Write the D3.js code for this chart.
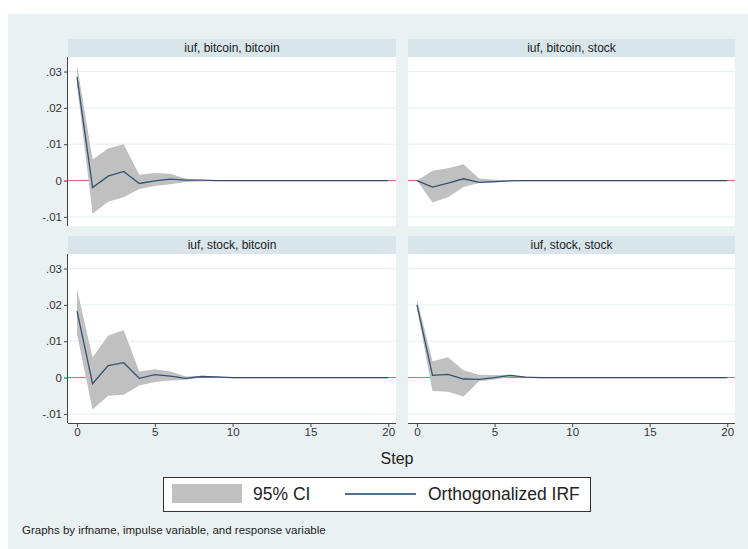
<!DOCTYPE html>
<html>
<head>
<meta charset="utf-8">
<script src="https://cdn.jsdelivr.net/npm/d3@7"></script>
<style>
  body { margin: 0; background: #fff; }
  text { font-family: "Liberation Sans", Arial, sans-serif; }
</style>
</head>
<body>
<div id="chart"></div>
<script>
// steps 0..20
let steps = [0,1,2,3,4,5,6,7,8,9,10,11,12,13,14,15,16,17,18,19,20];
let xTicks = [0, 5, 10, 15, 20];
let yTicks = [0.03, 0.02, 0.01, 0, -0.01];
let yTickLabels = [".03", ".02", ".01", "0", "-.01"];
let panelTitles = ["iuf, bitcoin, bitcoin", "iuf, bitcoin, stock", "iuf, stock, bitcoin", "iuf, stock, stock"];

// bitcoin -> bitcoin
let irfBB = [0.0285, -0.0019, 0.0012, 0.0025, -0.0008, -0.0001, 0.0004, 0.0001, 0.0001, 0, 0,0,0,0,0,0,0,0,0,0,0];
let hiBB  = [0.0317, 0.0058, 0.0088, 0.0100, 0.0016, 0.0021, 0.0019, 0.0005, 0.0002, 0.0001, 0,0,0,0,0,0,0,0,0,0,0];
let loBB  = [0.0262, -0.0091, -0.0058, -0.0046, -0.0023, -0.0015, -0.0010, -0.0004, -0.0002, -0.0001, 0,0,0,0,0,0,0,0,0,0,0];
// bitcoin -> stock
let irfBS = [0, -0.0018, -0.0007, 0.0005, -0.0005, -0.0003, -0.0001, 0, 0, 0, 0,0,0,0,0,0,0,0,0,0,0];
let hiBS  = [0, 0.0027, 0.0034, 0.0045, 0.0006, 0.0002, 0.0001, 0, 0, 0, 0,0,0,0,0,0,0,0,0,0,0];
let loBS  = [0, -0.0060, -0.0046, -0.0018, -0.0007, -0.0005, -0.0002, 0, 0, 0, 0,0,0,0,0,0,0,0,0,0,0];
// stock -> bitcoin
let irfSB = [0.0183, -0.0017, 0.0033, 0.0041, -0.0002, 0.0008, 0.0004, -0.0002, 0.0003, 0.0002, 0,0,0,0,0,0,0,0,0,0,0];
let hiSB  = [0.0243, 0.0055, 0.0116, 0.0130, 0.0017, 0.0023, 0.0017, 0.0003, 0.0005, 0.0003, 0,0,0,0,0,0,0,0,0,0,0];
let loSB  = [0.0119, -0.0088, -0.0050, -0.0047, -0.0022, -0.0012, -0.0008, -0.0006, 0.0001, 0, 0,0,0,0,0,0,0,0,0,0,0];
// stock -> stock
let irfSS = [0.0200, 0.0006, 0.0009, -0.0004, -0.0005, 0, 0.0006, 0.0001, 0, 0, 0,0,0,0,0,0,0,0,0,0,0];
let hiSS  = [0.0215, 0.0045, 0.0056, 0.0020, 0.0008, 0.0007, 0.0008, 0.0002, 0, 0, 0,0,0,0,0,0,0,0,0,0,0];
let loSS  = [0.0190, -0.0037, -0.0039, -0.0052, -0.0010, -0.0005, 0.0002, 0, 0, 0, 0,0,0,0,0,0,0,0,0,0,0];

let panels = [
  {title: panelTitles[0], irf: irfBB, lo: loBB, hi: hiBB, col: 0, row: 0},
  {title: panelTitles[1], irf: irfBS, lo: loBS, hi: hiBS, col: 1, row: 0},
  {title: panelTitles[2], irf: irfSB, lo: loSB, hi: hiSB, col: 0, row: 1},
  {title: panelTitles[3], irf: irfSS, lo: loSS, hi: hiSS, col: 1, row: 1}
];

let svgWidth = 748, svgHeight = 549;
let svg = d3.select("#chart").append("svg")
    .attr("width", svgWidth)
    .attr("height", svgHeight);

// outer background
svg.append("rect").attr("x", 8).attr("y", 14)
    .attr("width", svgWidth - 8).attr("height", svgHeight - 14)
    .attr("fill", "#eaf1f3");

let colX = [[68, 396], [408, 735]];
let rowY = [{strip: 39, top: 57, bottom: 226}, {strip: 236, top: 254, bottom: 423}];

let ciColor = "#c0c0c0", irfColor = "#1a3f66", zeroColor = "#d0656f";

panels.forEach(p => {
  let [x0, x1] = colX[p.col];
  let r = rowY[p.row];
  let xScale = d3.scaleLinear().domain([-0.58, 20.5]).range([x0, x1]);
  let yScale = d3.scaleLinear().domain([-0.0125, 0.034]).range([r.bottom, r.top]);
  let g = svg.append("g");

  // strip
  g.append("rect").attr("x", x0).attr("y", r.strip)
      .attr("width", x1 - x0).attr("height", r.top - r.strip)
      .attr("fill", "#d8e5ea");
  g.append("text").attr("x", (x0 + x1) / 2).attr("y", r.strip + 13)
      .attr("text-anchor", "middle").attr("font-size", 12).attr("fill", "#222")
      .text(p.title);

  // plot region
  g.append("rect").attr("x", x0).attr("y", r.top)
      .attr("width", x1 - x0).attr("height", r.bottom - r.top)
      .attr("fill", "#fff");

  // grid
  g.selectAll(".grid").data(yTicks.filter(d => d !== 0)).enter()
      .append("line")
      .attr("x1", x0).attr("x2", x1)
      .attr("y1", d => yScale(d)).attr("y2", d => yScale(d))
      .attr("stroke", "#e6eef1").attr("stroke-width", 1);

  // zero line
  g.append("line").attr("x1", x0).attr("x2", x1)
      .attr("y1", yScale(0)).attr("y2", yScale(0))
      .attr("stroke", zeroColor).attr("stroke-width", 1);

  let data = steps.map((s, i) => ({s: s, irf: p.irf[i], lo: p.lo[i], hi: p.hi[i]}));

  let area = d3.area()
      .x(d => xScale(d.s))
      .y0(d => yScale(d.lo))
      .y1(d => yScale(d.hi));
  g.append("path").datum(data).attr("d", area).attr("fill", ciColor);

  let line = d3.line().x(d => xScale(d.s)).y(d => yScale(d.irf));
  g.append("path").datum(data).attr("d", line)
      .attr("fill", "none").attr("stroke", irfColor).attr("stroke-width", 1.3)
      .attr("stroke-opacity", 0.85);

  if (p.col === 0) {
    let yAxis = d3.axisLeft(yScale).tickValues(yTicks)
        .tickFormat((d, i) => yTickLabels[i]).tickSize(4).tickPadding(2);
    let ya = g.append("g").attr("transform", `translate(${x0},0)`).call(yAxis);
    ya.select(".domain").attr("d", `M-0.5,${r.top}V${r.bottom}`).attr("stroke", "#444");
    ya.selectAll(".tick line").attr("stroke", "#444");
    ya.selectAll(".tick text").attr("font-size", 11.5).attr("fill", "#333")
        .style("font-family", "'Liberation Sans', Arial, sans-serif");
  }
  if (p.row === 1) {
    let xAxis = d3.axisBottom(xScale).tickValues(xTicks).tickSize(4).tickPadding(1);
    let xa = g.append("g").attr("transform", `translate(0,${r.bottom})`).call(xAxis);
    xa.select(".domain").attr("d", `M${x0},0.5H${x1}`).attr("stroke", "#444");
    xa.selectAll(".tick line").attr("stroke", "#444");
    xa.selectAll(".tick text").attr("font-size", 11.5).attr("fill", "#333")
        .style("font-family", "'Liberation Sans', Arial, sans-serif");
  }
});

// x title
svg.append("text").attr("x", 397).attr("y", 464)
    .attr("text-anchor", "middle").attr("font-size", 16).attr("fill", "#222")
    .text("Step");

// legend
let lg = svg.append("g");
lg.append("rect").attr("x", 163.5).attr("y", 477.5).attr("width", 427).attr("height", 34)
    .attr("fill", "#fff").attr("stroke", "#333").attr("stroke-width", 1);
lg.append("rect").attr("x", 172).attr("y", 484).attr("width", 70).attr("height", 19)
    .attr("fill", ciColor);
lg.append("text").attr("x", 253).attr("y", 500).attr("font-size", 17.5).attr("fill", "#222")
    .text("95% CI");
lg.append("line").attr("x1", 345).attr("x2", 416).attr("y1", 494).attr("y2", 494)
    .attr("stroke", irfColor).attr("stroke-width", 1.3);
lg.append("text").attr("x", 428).attr("y", 500).attr("font-size", 17.5).attr("fill", "#222")
    .text("Orthogonalized IRF");

// note
svg.append("text").attr("x", 22).attr("y", 534).attr("font-size", 11.5).attr("fill", "#222")
    .text("Graphs by irfname, impulse variable, and response variable");
</script>
</body>
</html>
